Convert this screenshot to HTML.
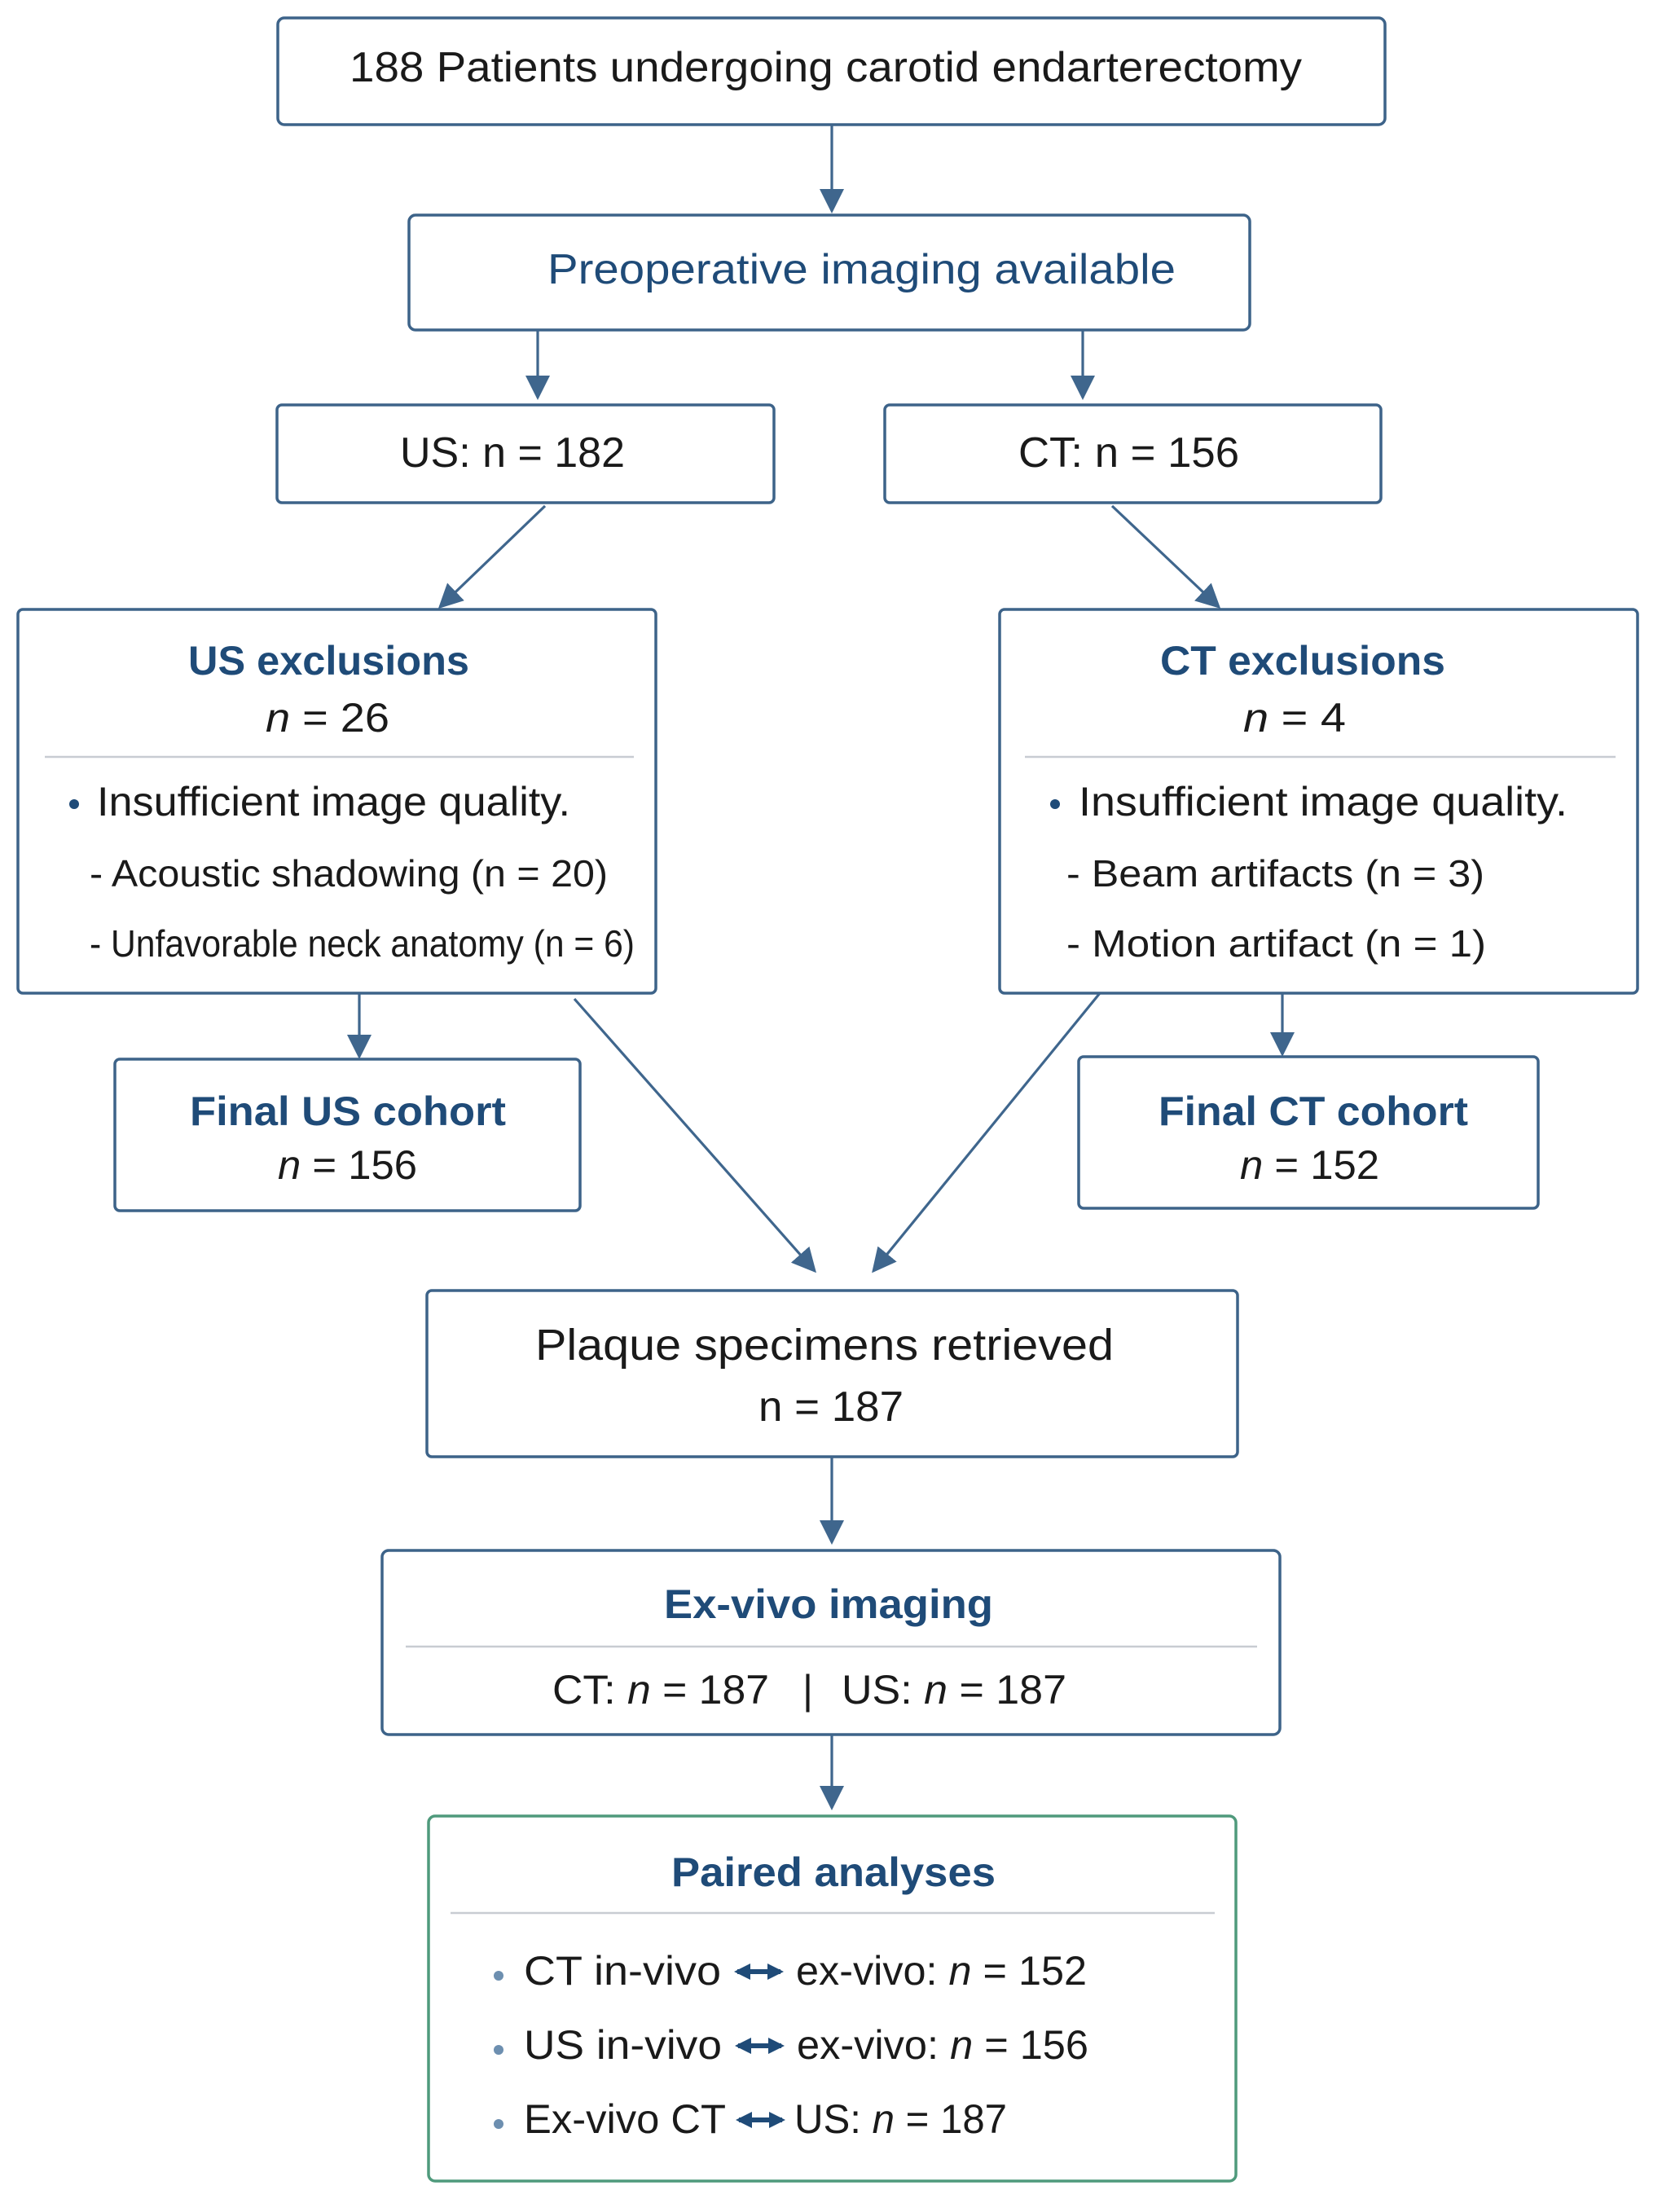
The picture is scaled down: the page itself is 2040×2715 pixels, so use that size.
<!DOCTYPE html>
<html><head><meta charset="utf-8"><style>html,body{margin:0;padding:0;background:#fff}svg{display:block}</style></head>
<body>
<svg width="2040" height="2715" viewBox="0 0 2040 2715" xmlns="http://www.w3.org/2000/svg" font-family="'Liberation Sans', 'DejaVu Sans', sans-serif">
<defs>
<marker id="ah2" viewBox="0 0 10 10" refX="9" refY="5" markerWidth="30" markerHeight="30" markerUnits="userSpaceOnUse" orient="auto"><path d="M0,0 L10,5 L0,10 z" fill="#3f668d"/></marker>
<marker id="dh" viewBox="0 0 10 10" refX="8" refY="5" markerWidth="20" markerHeight="22" markerUnits="userSpaceOnUse" orient="auto-start-reverse"><path d="M0,0 L10,5 L0,10 z" fill="#1f4b78"/></marker>
</defs>
<g fill="#fff" stroke="#3d6389" stroke-width="3.5">
<rect x="341" y="22" width="1359" height="131" rx="8"/>
<rect x="502" y="264" width="1032" height="141" rx="8"/>
<rect x="340" y="497" width="610" height="120" rx="6"/>
<rect x="1086" y="497" width="609" height="120" rx="6"/>
<rect x="22" y="748" width="783" height="471" rx="6"/>
<rect x="1227" y="748" width="783" height="471" rx="6"/>
<rect x="141" y="1300" width="571" height="186" rx="6"/>
<rect x="1324" y="1297" width="564" height="186" rx="6"/>
<rect x="524" y="1584" width="995" height="204" rx="6"/>
<rect x="469" y="1903" width="1102" height="226" rx="8"/>
<rect x="526" y="2229" width="991" height="448" rx="8" stroke="#4f9a7c"/>
</g>
<g stroke="#c8ccd2" stroke-width="2.5">
<line x1="55" y1="929" x2="778" y2="929"/>
<line x1="1258" y1="929" x2="1983" y2="929"/>
<line x1="498" y1="2021" x2="1543" y2="2021"/>
<line x1="553" y1="2348" x2="1491" y2="2348"/>
</g>
<g stroke="#3f668d" stroke-width="3.2" marker-end="url(#ah2)">
<line x1="1021" y1="153" x2="1021" y2="259"/>
<line x1="660" y1="405" x2="660" y2="488"/>
<line x1="1329" y1="405" x2="1329" y2="488"/>
<line x1="669" y1="621" x2="540" y2="745"/>
<line x1="1365" y1="621" x2="1496" y2="745"/>
<line x1="441" y1="1219" x2="441" y2="1297"/>
<line x1="1574" y1="1219" x2="1574" y2="1294"/>
<line x1="705" y1="1226" x2="1000" y2="1560"/>
<line x1="1350" y1="1219" x2="1072" y2="1560"/>
<line x1="1021" y1="1788" x2="1021" y2="1893"/>
<line x1="1021" y1="2129" x2="1021" y2="2219"/>
</g>
<g stroke="#1f4b78" stroke-width="6" marker-start="url(#dh)" marker-end="url(#dh)">
<line x1="905" y1="2420" x2="958" y2="2420"/>
<line x1="906" y1="2511" x2="959" y2="2511"/>
<line x1="907" y1="2602" x2="960" y2="2602"/>
</g>
<g font-size="52" fill="#1a1a1a">
<text x="429" y="100" textLength="1169" lengthAdjust="spacingAndGlyphs">188 Patients undergoing carotid endarterectomy</text>
<text x="672" y="348" textLength="771" lengthAdjust="spacingAndGlyphs" fill="#1f4b78">Preoperative imaging available</text>
<text x="491" y="573" textLength="276" lengthAdjust="spacingAndGlyphs">US: n = 182</text>
<text x="1250" y="573" textLength="271" lengthAdjust="spacingAndGlyphs">CT: n = 156</text>
</g>
<g font-size="50" fill="#1a1a1a">
<text x="231" y="828" textLength="345" lengthAdjust="spacingAndGlyphs" font-weight="bold" fill="#1f4b78">US exclusions</text>
<text x="326" y="898" textLength="152" lengthAdjust="spacingAndGlyphs"><tspan font-style="italic">n</tspan> = 26</text>
<circle cx="91" cy="987" r="6" fill="#1f4b78"/>
<text x="119" y="1001" textLength="581" lengthAdjust="spacingAndGlyphs">Insufficient image quality.</text>
<text x="110" y="1088" textLength="636" lengthAdjust="spacingAndGlyphs" font-size="46">- Acoustic shadowing (n = 20)</text>
<text x="110" y="1174" textLength="669" lengthAdjust="spacingAndGlyphs" font-size="46">- Unfavorable neck anatomy (n = 6)</text>

<text x="1424" y="828" textLength="350" lengthAdjust="spacingAndGlyphs" font-weight="bold" fill="#1f4b78">CT exclusions</text>
<text x="1526" y="898" textLength="126" lengthAdjust="spacingAndGlyphs"><tspan font-style="italic">n</tspan> = 4</text>
<circle cx="1295" cy="987" r="6" fill="#1f4b78"/>
<text x="1324" y="1001" textLength="600" lengthAdjust="spacingAndGlyphs">Insufficient image quality.</text>
<text x="1309" y="1088" textLength="513" lengthAdjust="spacingAndGlyphs" font-size="46">- Beam artifacts (n = 3)</text>
<text x="1309" y="1174" textLength="515" lengthAdjust="spacingAndGlyphs" font-size="46">- Motion artifact (n = 1)</text>

<text x="233" y="1381" textLength="388" lengthAdjust="spacingAndGlyphs" font-weight="bold" fill="#1f4b78">Final US cohort</text>
<text x="341" y="1447" textLength="171" lengthAdjust="spacingAndGlyphs"><tspan font-style="italic">n</tspan> = 156</text>
<text x="1422" y="1381" textLength="380" lengthAdjust="spacingAndGlyphs" font-weight="bold" fill="#1f4b78">Final CT cohort</text>
<text x="1522" y="1447" textLength="171" lengthAdjust="spacingAndGlyphs"><tspan font-style="italic">n</tspan> = 152</text>

<text x="657" y="1669" textLength="710" lengthAdjust="spacingAndGlyphs" font-size="54">Plaque specimens retrieved</text>
<text x="931" y="1744" textLength="178" lengthAdjust="spacingAndGlyphs" font-size="52">n = 187</text>

<text x="815" y="1986" textLength="404" lengthAdjust="spacingAndGlyphs" font-weight="bold" fill="#1f4b78">Ex-vivo imaging</text>
<text x="678" y="2091" textLength="266" lengthAdjust="spacingAndGlyphs">CT: <tspan font-style="italic">n</tspan> = 187</text>
<text x="985" y="2091" fill="#1a1a1a">|</text>
<text x="1033" y="2091" textLength="276" lengthAdjust="spacingAndGlyphs">US: <tspan font-style="italic">n</tspan> = 187</text>

<text x="824" y="2315" textLength="398" lengthAdjust="spacingAndGlyphs" font-weight="bold" fill="#1f4b78">Paired analyses</text>
<circle cx="612" cy="2425" r="6" fill="#6d8fb0"/>
<circle cx="612" cy="2516" r="6" fill="#6d8fb0"/>
<circle cx="612" cy="2607" r="6" fill="#6d8fb0"/>
<text x="643" y="2436" textLength="242" lengthAdjust="spacingAndGlyphs">CT in-vivo</text>
<text x="977" y="2436" textLength="357" lengthAdjust="spacingAndGlyphs">ex-vivo: <tspan font-style="italic">n</tspan> = 152</text>
<text x="643" y="2527" textLength="243" lengthAdjust="spacingAndGlyphs">US in-vivo</text>
<text x="978" y="2527" textLength="358" lengthAdjust="spacingAndGlyphs">ex-vivo: <tspan font-style="italic">n</tspan> = 156</text>
<text x="643" y="2618" textLength="248" lengthAdjust="spacingAndGlyphs">Ex-vivo CT</text>
<text x="975" y="2618" textLength="261" lengthAdjust="spacingAndGlyphs">US: <tspan font-style="italic">n</tspan> = 187</text>
<text x="905" y="2436" fill="none" font-size="20">↔</text>
</g>
</svg>
</body></html>
